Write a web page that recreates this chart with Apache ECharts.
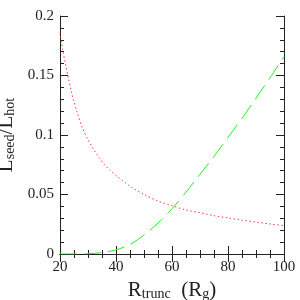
<!DOCTYPE html>
<html><head><meta charset="utf-8">
<script src="https://cdn.jsdelivr.net/npm/echarts@6/dist/echarts.min.js"></script>
<style>html,body{margin:0;padding:0;background:#fff}#c{width:300px;height:300px}</style>
</head><body><div id="c"></div>
<script>
const xTicks = [20, 40, 60, 80, 100];
const yTicks = [0, 0.05, 0.1, 0.15, 0.2];
const seedX = [20, 21, 22, 23, 24, 25, 26, 28, 30, 32, 34, 36, 38, 40, 45, 50, 55, 60, 65, 70, 75, 80, 85, 90, 95, 100];
const seedY = [0.186, 0.171, 0.159, 0.148, 0.137, 0.128, 0.120, 0.106, 0.096, 0.088, 0.081, 0.075, 0.070, 0.066, 0.057, 0.050, 0.0445, 0.0405, 0.037, 0.0347, 0.0322, 0.0303, 0.0285, 0.0268, 0.0252, 0.0238];
const greenX = [20, 25, 30, 35, 40, 45, 50, 55, 60, 65, 70, 75, 80, 85, 90, 95, 100];
const greenY = [0, 0, 0.0002, 0.0012, 0.0035, 0.008, 0.016, 0.026, 0.038, 0.052, 0.067, 0.082, 0.098, 0.114, 0.131, 0.148, 0.166];

const serif = 'Liberation Serif';
const axCol = '#222';
const chart = echarts.init(document.getElementById('c'), null, {renderer: 'canvas'});
const pairs = (xs, ys) => xs.map((x, i) => [x, ys[i]]);
const baseX = {
  type: 'value', min: xTicks[0], max: xTicks[xTicks.length - 1], interval: 20,
  axisLine: {show: true, lineStyle: {color: axCol, width: 1}},
  axisTick: {show: true, inside: true, length: 8, lineStyle: {color: axCol}},
  minorTick: {show: true, splitNumber: 4, length: 4, lineStyle: {color: axCol}},
  splitLine: {show: false}
};
const baseY = {
  type: 'value', min: yTicks[0], max: yTicks[yTicks.length - 1], interval: 0.05,
  axisLine: {show: true, lineStyle: {color: axCol, width: 1}},
  axisTick: {show: true, inside: true, length: 8, lineStyle: {color: axCol}},
  minorTick: {show: true, splitNumber: 5, length: 4, lineStyle: {color: axCol}},
  splitLine: {show: false}
};
chart.setOption({
  animation: false,
  backgroundColor: '#fff',
  grid: {left: 60, right: 16, top: 16, bottom: 46, containLabel: false, outerBoundsMode: 'none'},
  xAxis: [
    Object.assign({}, baseX, {
      position: 'bottom',
      axisLabel: {color: '#222', fontFamily: serif, fontSize: 15, margin: 6},
      name: '{a|R}{b|trunc}{a|  (R}{b|g}{a|)}',
      nameLocation: 'middle', nameGap: 18,
      nameTextStyle: {
        rich: {
          a: {fontFamily: serif, fontSize: 21, color: '#222', lineHeight: 22},
          b: {fontFamily: serif, fontSize: 14, color: '#222', lineHeight: 22, padding: [7, 0, 0, 0]}
        }
      }
    }),
    Object.assign({}, baseX, {position: 'top', axisLabel: {show: false}})
  ],
  yAxis: [
    Object.assign({}, baseY, {
      position: 'left',
      axisLabel: {color: '#222', fontFamily: serif, fontSize: 15, margin: 6},
      name: '{a|L}{b|seed}{a|/L}{b|hot}',
      nameLocation: 'middle', nameGap: 40, nameRotate: 90,
      nameTextStyle: {
        rich: {
          a: {fontFamily: serif, fontSize: 21, color: '#222', lineHeight: 22},
          b: {fontFamily: serif, fontSize: 14, color: '#222', lineHeight: 22, padding: [7, 0, 0, 0]}
        }
      }
    }),
    Object.assign({}, baseY, {position: 'right', axisLabel: {show: false}})
  ],
  series: [
    {
      type: 'line', xAxisIndex: 0, yAxisIndex: 0, data: pairs(seedX, seedY),
      smooth: 0.3, showSymbol: false, symbol: 'none',
      lineStyle: {color: '#ff3c3c', width: 1, type: [1.5, 2.5]}
    },
    {
      type: 'line', xAxisIndex: 0, yAxisIndex: 0, data: pairs(greenX, greenY),
      smooth: 0.3, showSymbol: false, symbol: 'none',
      lineStyle: {color: '#22ee22', width: 1, type: [17, 7]}
    }
  ]
});
</script></body></html>
